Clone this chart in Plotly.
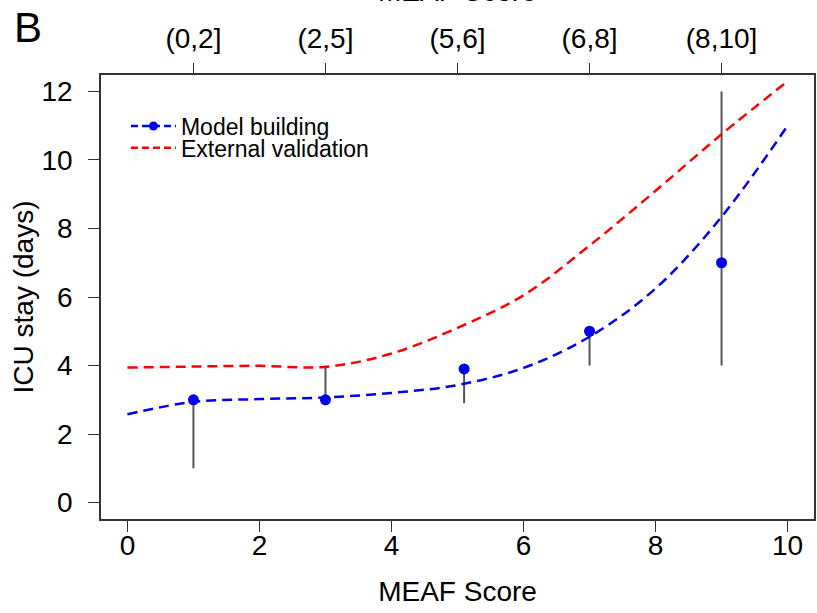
import plotly.graph_objects as go

# ---- data ----
curve_x = [0, 1, 2, 3, 4, 5, 6, 7, 8, 9, 10]
model_curve = [2.58, 2.94, 3.02, 3.07, 3.2, 3.43, 3.93, 4.84, 6.25, 8.34, 11.0]
valid_curve = [3.94, 3.97, 3.99, 3.96, 4.35, 5.1, 6.05, 7.5, 9.1, 10.75, 12.3]

obs_x = [1, 3, 5.1, 7, 9]
obs_median = [3, 3, 3.9, 5, 7]
obs_low = [1, 3, 2.9, 4, 4]
obs_high = [3, 4, 3.9, 5, 12]

group_ticks = [1, 3, 5, 7, 9]
group_labels = ["(0,2]", "(2,5]", "(5,6]", "(6,8]", "(8,10]"]
x_ticks = [0, 2, 4, 6, 8, 10]
y_ticks = [0, 2, 4, 6, 8, 10, 12]

FONT = "Liberation Sans, Arial, sans-serif"
BLUE = "#0000EE"
RED = "#FF0000"
AX = "#333333"

# vertical segments (range bars)
seg_x, seg_y = [], []
for xv, lo, hi in zip(obs_x, obs_low, obs_high):
    seg_x += [xv, xv, None]
    seg_y += [lo, hi, None]

fig = go.Figure()
fig.add_trace(go.Scatter(x=seg_x, y=seg_y, mode="lines",
                         line=dict(color="#555555", width=2), showlegend=False,
                         hoverinfo="skip"))
fig.add_trace(go.Scatter(x=curve_x, y=model_curve, mode="lines",
                         line=dict(color=BLUE, width=2.5, dash="10px,6px", shape="spline", smoothing=1.0),
                         showlegend=False))
fig.add_trace(go.Scatter(x=curve_x, y=valid_curve, mode="lines",
                         line=dict(color=RED, width=2.5, dash="10px,6px", shape="spline", smoothing=1.0),
                         showlegend=False))
fig.add_trace(go.Scatter(x=obs_x, y=obs_median, mode="markers",
                         marker=dict(color=BLUE, size=11), showlegend=False))
# legend entries (two legends for tight row spacing)
fig.add_trace(go.Scatter(x=[None], y=[None], mode="lines+markers", name="Model building",
                         line=dict(color=BLUE, width=2.5, dash="7px,4px"),
                         marker=dict(color=BLUE, size=9), legend="legend"))
fig.add_trace(go.Scatter(x=[None], y=[None], mode="lines", name="External validation",
                         line=dict(color=RED, width=2.5, dash="7px,4px"), legend="legend2"))
# dummy trace so the top axis is attached
fig.add_trace(go.Scatter(x=[None], y=[None], xaxis="x2", showlegend=False))

leg_common = dict(xanchor="left", yanchor="middle", bgcolor="rgba(0,0,0,0)",
                  font=dict(size=23, family=FONT), itemwidth=45)

fig.update_layout(
    width=817, height=613,
    margin=dict(l=101, r=3, t=75, b=94, autoexpand=False),
    paper_bgcolor="white", plot_bgcolor="white",
    font=dict(family=FONT, size=28, color="black"),
    showlegend=True,
    legend=dict(x=0.035, y=0.885, **leg_common),
    legend2=dict(x=0.035, y=0.836, **leg_common),
    xaxis=dict(range=[-0.4, 10.4], tickvals=x_ticks, ticks="outside", ticklen=11,
               tickcolor=AX, showline=True, linecolor=AX, linewidth=1.5, mirror=True,
               showgrid=False, zeroline=False, tickfont=dict(size=28), automargin=False,
               ticklabelstandoff=-10,
               title=dict(text="MEAF Score", font=dict(size=28), standoff=21)),
    xaxis2=dict(range=[-0.4, 10.4], overlaying="x", side="top", anchor="y",
                tickvals=group_ticks, ticktext=group_labels, ticks="outside", ticklen=11,
                tickcolor=AX, showline=False, showgrid=False, zeroline=False,
                tickfont=dict(size=28), automargin=False, ticklabelstandoff=4),
    yaxis=dict(range=[-0.48, 12.48], tickvals=y_ticks, ticks="outside", ticklen=11,
               tickcolor=AX, showline=True, linecolor=AX, linewidth=1.5, mirror=True,
               showgrid=False, zeroline=False, tickfont=dict(size=28), ticklabelstandoff=10,
               automargin=False,
               title=dict(text="ICU stay (days)", font=dict(size=28), standoff=0)),
    annotations=[
        dict(text="B", xref="paper", yref="paper", x=-0.125, y=1.108, xanchor="left",
             yanchor="middle", showarrow=False, font=dict(size=42, family=FONT)),
        dict(text="MEAF Score", xref="paper", yref="paper", x=0.5, y=1.149, xanchor="center",
             yanchor="bottom", showarrow=False, font=dict(size=28, family=FONT)),
    ],
)

fig.write_html("out.html", config={"displayModeBar": False},
               post_script="document.body.style.margin='0';document.body.style.overflow='hidden';")
